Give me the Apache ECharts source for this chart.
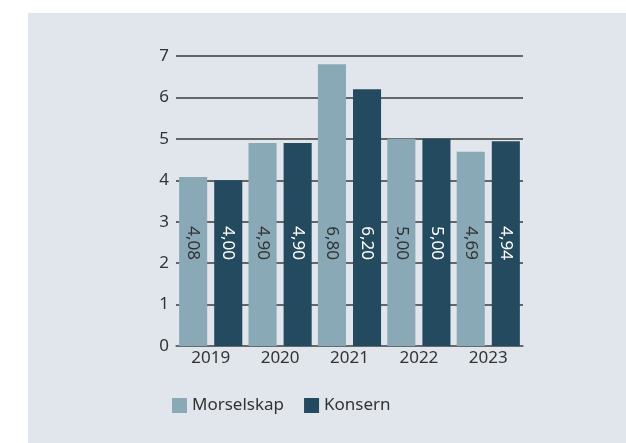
<!DOCTYPE html>
<html>
<head>
<meta charset="UTF-8">
<title>Morselskap / Konsern</title>
<script src="https://cdn.jsdelivr.net/npm/echarts@6/dist/echarts.min.js"></script>
<style>
  html, body { margin: 0; padding: 0; background: #ffffff; }
  #main { width: 626px; height: 443px; }
</style>
</head>
<body>
<div id="main"></div>
<script>
var years = ['2019', '2020', '2021', '2022', '2023'];
var morselskap = [4.08, 4.90, 6.80, 5.00, 4.69];
var konsern = [4.00, 4.90, 6.20, 5.00, 4.94];
var yTicks = [0, 1, 2, 3, 4, 5, 6, 7];

var font = 'Noto Sans';
function fmt(p) {
  return p.value.toFixed(2).replace('.', ',');
}
function barLabel(color) {
  return {
    show: true,
    position: 'insideBottom',
    distance: 86,
    rotate: -90,
    align: 'right',
    verticalAlign: 'middle',
    color: color,
    fontFamily: font,
    fontSize: 17,
    formatter: fmt
  };
}

var chart = echarts.init(document.getElementById('main'));
chart.setOption({
  animation: false,
  graphic: [{
    type: 'rect',
    z: -10,
    shape: { x: 28, y: 13, width: 598, height: 430 },
    style: { fill: '#e1e5ec' }
  }],
  legend: {
    left: 167,
    top: 392,
    itemWidth: 15,
    itemHeight: 15,
    itemGap: 20,
    icon: 'rect',
    textStyle: { fontFamily: font, fontSize: 17, color: '#333333' },
    data: ['Morselskap', 'Konsern']
  },
  grid: { left: 176, right: 103, top: 56, bottom: 97 },
  xAxis: {
    type: 'category',
    data: years,
    axisTick: { show: false },
    axisLine: { lineStyle: { color: '#6b6b6b', width: 1.5 } },
    axisLabel: { fontFamily: font, fontSize: 17, color: '#333333', margin: 4 }
  },
  yAxis: {
    type: 'value',
    min: yTicks[0],
    max: yTicks[yTicks.length - 1],
    interval: 1,
    axisLine: { show: false },
    axisTick: { show: false },
    axisLabel: { fontFamily: font, fontSize: 17, color: '#333333', margin: 7 },
    splitLine: { lineStyle: { color: '#3a3a3a', width: 1.5 } }
  },
  series: [{
    name: 'Morselskap',
    type: 'bar',
    data: morselskap,
    barGap: '25%',
    barCategoryGap: '9%',
    itemStyle: { color: '#88a9b5' },
    label: barLabel('#333333')
  }, {
    name: 'Konsern',
    type: 'bar',
    data: konsern,
    itemStyle: { color: '#244a60' },
    label: barLabel('#ffffff')
  }]
});
</script>
</body>
</html>
